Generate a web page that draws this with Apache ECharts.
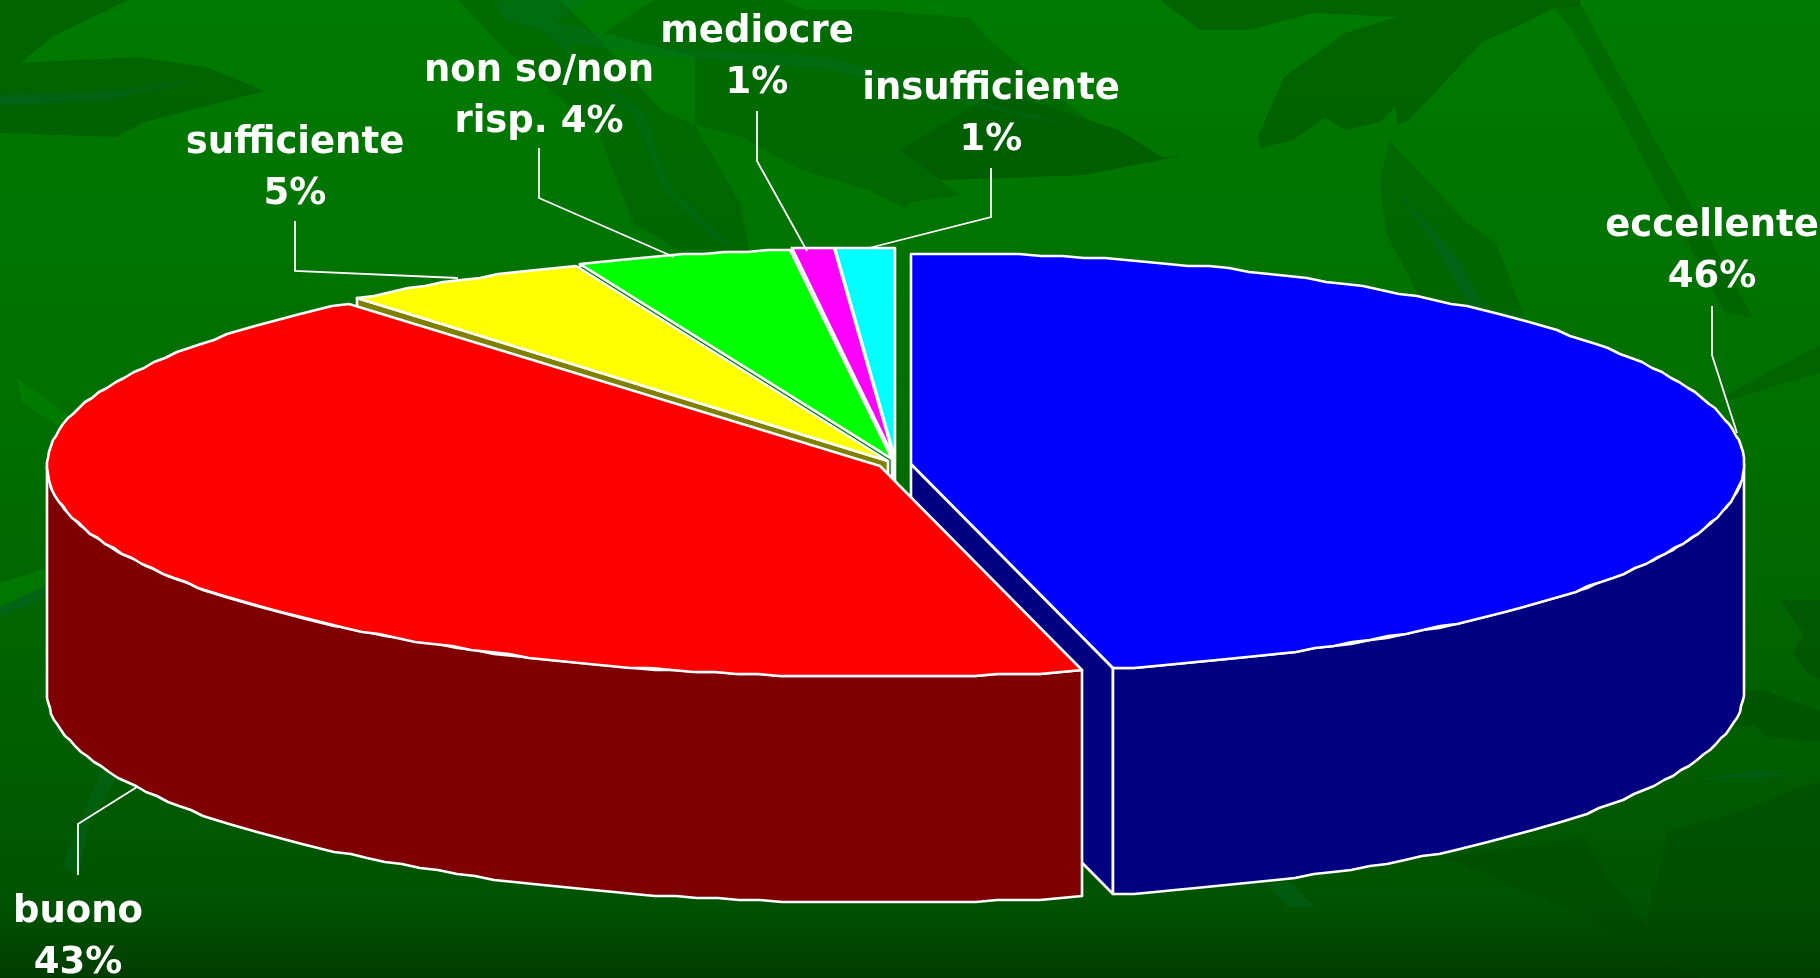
<!DOCTYPE html>
<html><head><meta charset="utf-8">
<style>html,body{margin:0;padding:0;background:#006000}#c{width:1820px;height:978px}</style>
<script src="https://cdn.jsdelivr.net/npm/echarts@6/dist/echarts.min.js"></script>
</head><body><div id="c"></div>
<script>
// ---- data ----
const categories = ['eccellente','buono','sufficiente','non so/non\nrisp.','mediocre','insufficiente'];
const values = [46.1, 42.9, 4.88, 4.16, 0.82, 1.14];

// ---- look ----
const topColors  = ['#0000ff','#ff0000','#ffff00','#00ff00','#ff00ff','#00ffff'];
const wallColors = ['#000080','#7f0000','#808000','#008000','#800080','#008080'];
const explode = [[18,4],[-13,6],[-5,1],[-1,-1],[1,-2],[2,-2]];
const labelBoxes = [[1712,226],[78,912],[295,143],[539,71],[757,32],[991,89]];
const leaders = [
  [[1712,306],[1712,355],[1737,433]],
  [[78,875],[78,824],[137,787]],
  [[295,221],[295,271],[458,278]],
  [[539,148],[539,198],[674,257]],
  [[757,111],[757,161],[807,251]],
  [[991,168],[991,217],[869,248]]
];
const CX=893, CY=460, RX=833, RY=211, DEPTH=226, LINE_H=51;
const FONT='bold 37px "DejaVu Sans"';

const total = values.reduce((a,b)=>a+b,0);
const starts = []; values.reduce((acc,v,i)=>{starts[i]=acc; return acc+v;},0);
const deg = v => v/total*360;
const snap = (v,g) => Math.round(v/g)*g;
function pt(cx,cy,a){const r=a*Math.PI/180;return [snap(cx+RX*Math.sin(r),1),snap(cy-RY*Math.cos(r),2)];}
function arc(cx,cy,a0,a1){const n=Math.max(2,Math.ceil((a1-a0)/1.5));const p=[];for(let k=0;k<=n;k++)p.push(pt(cx,cy,a0+(a1-a0)*k/n));return p;}

function renderSlice(params, api){
  const i = api.value(0), a0 = deg(starts[i]), a1 = a0 + deg(api.value(1));
  const cx = CX+explode[i][0], cy = CY+explode[i][1];
  const z = i===0 ? 0 : (categories.length-i)*10;
  const stroke = {stroke:'#fff',lineWidth:2.6,lineJoin:'round'};
  const children = [];
  const top = arc(cx,cy,a0,a1);
  const wall = (p,q) => ({type:'polygon',z2:z+1,shape:{points:[p,q,[q[0],q[1]+DEPTH],[p[0],p[1]+DEPTH]]},style:{fill:wallColors[i],...stroke}});
  // cut faces turned towards the viewer
  if(a1<180) children.push(wall([cx,cy],top[top.length-1]));
  if(a0>180) children.push(wall([cx,cy],top[0]));
  // outer rim, only the front half is seen
  const f0=Math.max(a0,90), f1=Math.min(a1,270);
  if(f1>f0){
    const rim=arc(cx,cy,f0,f1), low=rim.map(p=>[p[0],p[1]+DEPTH]).reverse();
    children.push({type:'polygon',z2:z+2,shape:{points:rim.concat(low)},style:{fill:wallColors[i],...stroke}});
  }
  // top face
  children.push({type:'polygon',z2:z+3,shape:{points:[[cx,cy]].concat(top)},style:{fill:topColors[i],...stroke}});
  // leader + label
  children.push({type:'polyline',z2:200,shape:{points:leaders[i]},style:{fill:'none',stroke:'#fff',lineWidth:1.8}});
  const name=categories[i], pct=Math.round(api.value(1))+'%';
  const lines=(name.includes('\n')?name+' '+pct:name+'\n'+pct).split('\n');
  lines.forEach((t,k)=>children.push({type:'text',z2:210,style:{text:t,x:labelBoxes[i][0],y:labelBoxes[i][1]+k*LINE_H,align:'center',verticalAlign:'middle',font:FONT,fill:'#fff'}}));
  return {type:'group',children};
}

// ---- background foliage (decoration only) ----
const D='rgba(0,70,0,0.40)', D2='rgba(0,60,0,0.22)', T='rgba(0,100,50,0.40)', T2='rgba(0,110,60,0.25)', L='rgba(0,135,0,0.5)';
const foliage=[
 [D,[[0,0],[128,0],[52,37],[20,63],[139,57],[209,68],[264,91],[145,122],[116,137],[0,133]]],
 [T,[[0,95],[116,91],[203,79],[104,100],[0,106]]],
 [D2,[[458,0],[499,43],[598,133],[633,223],[679,250],[749,250],[740,203],[695,125],[660,110],[600,40],[560,0]]],
 [D2,[[695,125],[741,137],[797,168],[873,192],[904,208],[912,202],[960,195],[935,180],[1006,178],[1083,175],[1185,155],[1164,158],[1118,130],[1088,120],[991,42],[970,18],[873,10],[807,10],[782,0],[654,0],[603,33],[695,57]]],
 [D2,[[960,195],[935,180],[1006,178],[1083,175],[1185,155],[1164,158],[1118,130],[1088,120],[1000,90],[900,150]]],
 [T2,[[493,0],[588,0],[555,22],[664,47],[828,57],[960,97],[1103,133],[960,103],[822,68],[664,57],[570,43],[598,80],[644,113],[669,187],[736,250],[715,240],[664,190],[634,117],[542,30],[506,20]]],
 [D,[[1160,0],[1200,30],[1249,30],[1313,13],[1397,17],[1345,33],[1284,77],[1258,137],[1261,148],[1293,140],[1325,118],[1345,130],[1380,122],[1395,107],[1398,125],[1409,120],[1482,42],[1525,23],[1554,8],[1580,5],[1580,0]]],
 [D2,[[1554,8],[1572,30],[1612,100],[1725,313],[1753,318],[1580,3]]],
 [D2,[[1389,140],[1380,183],[1386,233],[1421,300],[1525,317],[1496,243],[1467,223]]],
 [T,[[1395,187],[1456,257],[1485,308],[1468,305],[1438,250]]],
 [D2,[[1820,345],[1820,372],[1730,400],[1725,395]]],
 [D,[[1443,857],[1540,845],[1583,837],[1612,883],[1648,928],[1651,900],[1665,850],[1667,832],[1740,812],[1800,787],[1820,783],[1820,978],[1700,978],[1560,905]]],
 [D,[[1745,690],[1765,690],[1795,702],[1820,711],[1820,742],[1765,737],[1755,725],[1735,728],[1740,700]]],
 [D,[[1780,600],[1803,634],[1793,654],[1807,672],[1820,680],[1820,600]]],
 [T,[[1700,779],[1767,770],[1785,776]]],
 [L,[[17,378],[22,402],[60,427],[68,415]]],
 [L,[[0,583],[47,568],[47,585],[0,607]]],
 [T,[[0,607],[47,585],[47,597],[0,617]]],
 [T2,[[100,772],[117,777],[90,823],[78,875],[62,867]]],
 [T2,[[1265,883],[1290,882],[1315,907],[1288,907]]]
];

const chart=echarts.init(document.getElementById('c'),null,{renderer:'canvas'});
chart.setOption({
  animation:false,
  backgroundColor:{type:'linear',x:0,y:0,x2:0,y2:1,colorStops:[
    {offset:0,color:'#007a00'},{offset:0.45,color:'#006e00'},{offset:0.75,color:'#005f00'},
    {offset:0.93,color:'#005200'},{offset:1,color:'#003c00'}]},
  graphic:foliage.map(([fill,points])=>({type:'polygon',silent:true,z:-1,shape:{points},style:{fill}})),
  series:[{type:'custom',coordinateSystem:'none',z:10,silent:true,renderItem:renderSlice,
    data:values.map((v,i)=>({name:categories[i],value:[i,v]}))}]
});
</script></body></html>
